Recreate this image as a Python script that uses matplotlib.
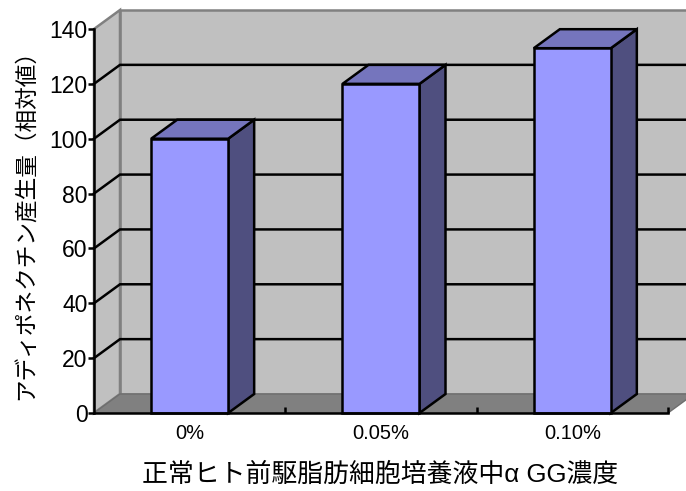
import matplotlib
matplotlib.use("Agg")
import matplotlib.pyplot as plt
from matplotlib.patches import Polygon

plt.rcParams["font.family"] = ["Liberation Sans", "Noto Sans CJK JP"]

categories = ["0%", "0.05%", "0.10%"]
values = [100, 120, 133]
y_ticks = [0, 20, 40, 60, 80, 100, 120, 140]
y_label = "アディポネクチン産生量（相対値）"
x_label = "正常ヒト前駆脂肪細胞培養液中α GG濃度"

W, H = 686, 491
# front plane of the 3D box, pixels
LEFT, RIGHT, TOP, BOTTOM = 94, 668, 29, 413
YMAX = 140
NCAT = len(categories)
# depth offset in data units (26 px right, 19 px up)
DX = 26 / ((RIGHT - LEFT) / NCAT)
DY = 19 / ((BOTTOM - TOP) / YMAX)
BAR_W = 77 / ((RIGHT - LEFT) / NCAT)
LW = 1.8

fig = plt.figure(figsize=(W / 100, H / 100), dpi=100)
ax = fig.add_axes([LEFT / W, 1 - BOTTOM / H, (RIGHT - LEFT) / W, (BOTTOM - TOP) / H])
ax.set_xlim(0, NCAT)
ax.set_ylim(0, YMAX)
ax.patch.set_visible(False)
for s in ["top", "right"]:
    ax.spines[s].set_visible(False)
for s in ["left", "bottom"]:
    ax.spines[s].set_linewidth(LW)
    ax.spines[s].set_zorder(6)


def poly(pts, fc, ec, lw=LW, z=1):
    ax.add_patch(Polygon(pts, closed=True, facecolor=fc, edgecolor=ec, linewidth=lw,
                         joinstyle="miter", clip_on=False, zorder=z))


# walls and floor
poly([(DX, DY), (NCAT + DX, DY), (NCAT + DX, YMAX + DY), (DX, YMAX + DY)], "#c0c0c0", "#808080")
poly([(0, 0), (DX, DY), (DX, YMAX + DY), (0, YMAX)], "#c0c0c0", "#808080")
poly([(0, 0), (NCAT, 0), (NCAT + DX, DY), (DX, DY)], "#808080", "#6e6e6e", lw=1.0)

# gridlines on the walls
for v in y_ticks[1:-1]:
    ax.plot([0, DX, NCAT + DX], [v, v + DY, v + DY], color="black", lw=LW,
            clip_on=False, zorder=2, solid_joinstyle="miter")

# bars
for i, v in enumerate(values):
    x0 = i + 0.5 - BAR_W / 2
    x1 = x0 + BAR_W
    poly([(x1, 0), (x1 + DX, DY), (x1 + DX, v + DY), (x1, v)], "#4f4f7f", "black", z=3)
    poly([(x0, v), (x1, v), (x1 + DX, v + DY), (x0 + DX, v + DY)], "#7575bd", "black", z=3)
    poly([(x0, 0), (x1, 0), (x1, v), (x0, v)], "#9999ff", "black", z=4)

ax.set_yticks(y_ticks)
ax.tick_params(axis="y", length=4, width=LW, direction="out", labelsize=16.5, pad=0.5)
ax.set_xticks([i + 0.5 for i in range(NCAT)])
ax.set_xticklabels(categories)
ax.tick_params(axis="x", which="major", length=0, labelsize=14.5, pad=8)
ax.set_xticks(range(1, NCAT + 1), minor=True)
ax.tick_params(axis="x", which="minor", length=4, width=LW, direction="in", zorder=6)

fig.text(26 / W, 1 - 219 / H, y_label, rotation=90, ha="center", va="center", fontsize=16.3)
fig.text(380 / W, 1 - 475 / H, x_label, ha="center", va="center", fontsize=18.6)

fig.savefig("out.png", dpi=100)
